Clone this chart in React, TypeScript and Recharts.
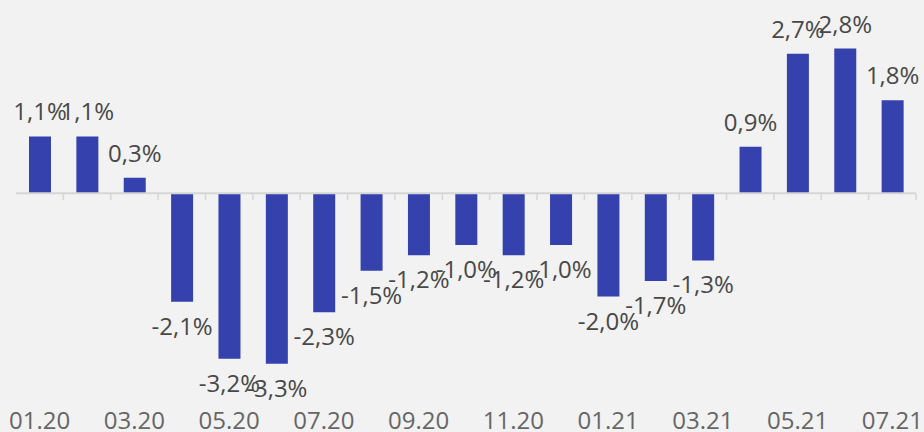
import { BarChart, Bar, XAxis, YAxis, ReferenceLine, LabelList } from 'recharts';

// Monthly change, %
const months = [
  '01.20', '02.20', '03.20', '04.20', '05.20', '06.20', '07.20', '08.20', '09.20', '10.20',
  '11.20', '12.20', '01.21', '02.21', '03.21', '04.21', '05.21', '06.21', '07.21',
];
const changes = [1.1, 1.1, 0.3, -2.1, -3.2, -3.3, -2.3, -1.5, -1.2, -1.0, -1.2, -1.0, -2.0, -1.7, -1.3, 0.9, 2.7, 2.8, 1.8];

const data = months.map((month, i) => ({ month, value: changes[i] }));

const FONT = "'Open Sans', sans-serif";
const BAR_COLOR = '#3541ad';
const AXIS_COLOR = '#d6d6d6';
const TICK_LEN = 0.135; // tick mark length, in data units below zero

const formatPct = (v: number) => `${v.toFixed(1).replace('.', ',')}%`;

export default function App() {
  return (
    <div
      style={{
        position: 'fixed',
        top: 0,
        left: 0,
        width: 924,
        height: 432,
        background: '#f2f2f2',
        fontFamily: FONT,
      }}
    >
      <BarChart
        width={924}
        height={432}
        data={data}
        margin={{ top: 2, right: 8, left: 16, bottom: 0 }}
        barSize={22}
      >
        <XAxis
          dataKey="month"
          interval={1}
          axisLine={false}
          tickLine={false}
          height={32}
          tickMargin={6}
          tick={{ fontSize: 24, fill: '#666666', fontFamily: FONT }}
        />
        <YAxis hide domain={[-4, 3.7]} />
        <ReferenceLine y={0} stroke={AXIS_COLOR} strokeWidth={2} />
        {months.map((m) => (
          <ReferenceLine
            key={`t-${m}`}
            segment={[{ x: m, y: 0 }, { x: m, y: -TICK_LEN }]}
            position="start"
            stroke={AXIS_COLOR}
            strokeWidth={1.5}
          />
        ))}
        <ReferenceLine
          segment={[{ x: months[months.length - 1], y: 0 }, { x: months[months.length - 1], y: -TICK_LEN }]}
          position="end"
          stroke={AXIS_COLOR}
          strokeWidth={1.5}
        />
        <Bar dataKey="value" fill={BAR_COLOR} isAnimationActive={false}>
          <LabelList
            dataKey="value"
            position="top"
            offset={16}
            formatter={(v: number) => formatPct(v)}
            style={{ fontSize: 24, fill: '#484848', fontFamily: FONT }}
          />
        </Bar>
      </BarChart>
    </div>
  );
}
